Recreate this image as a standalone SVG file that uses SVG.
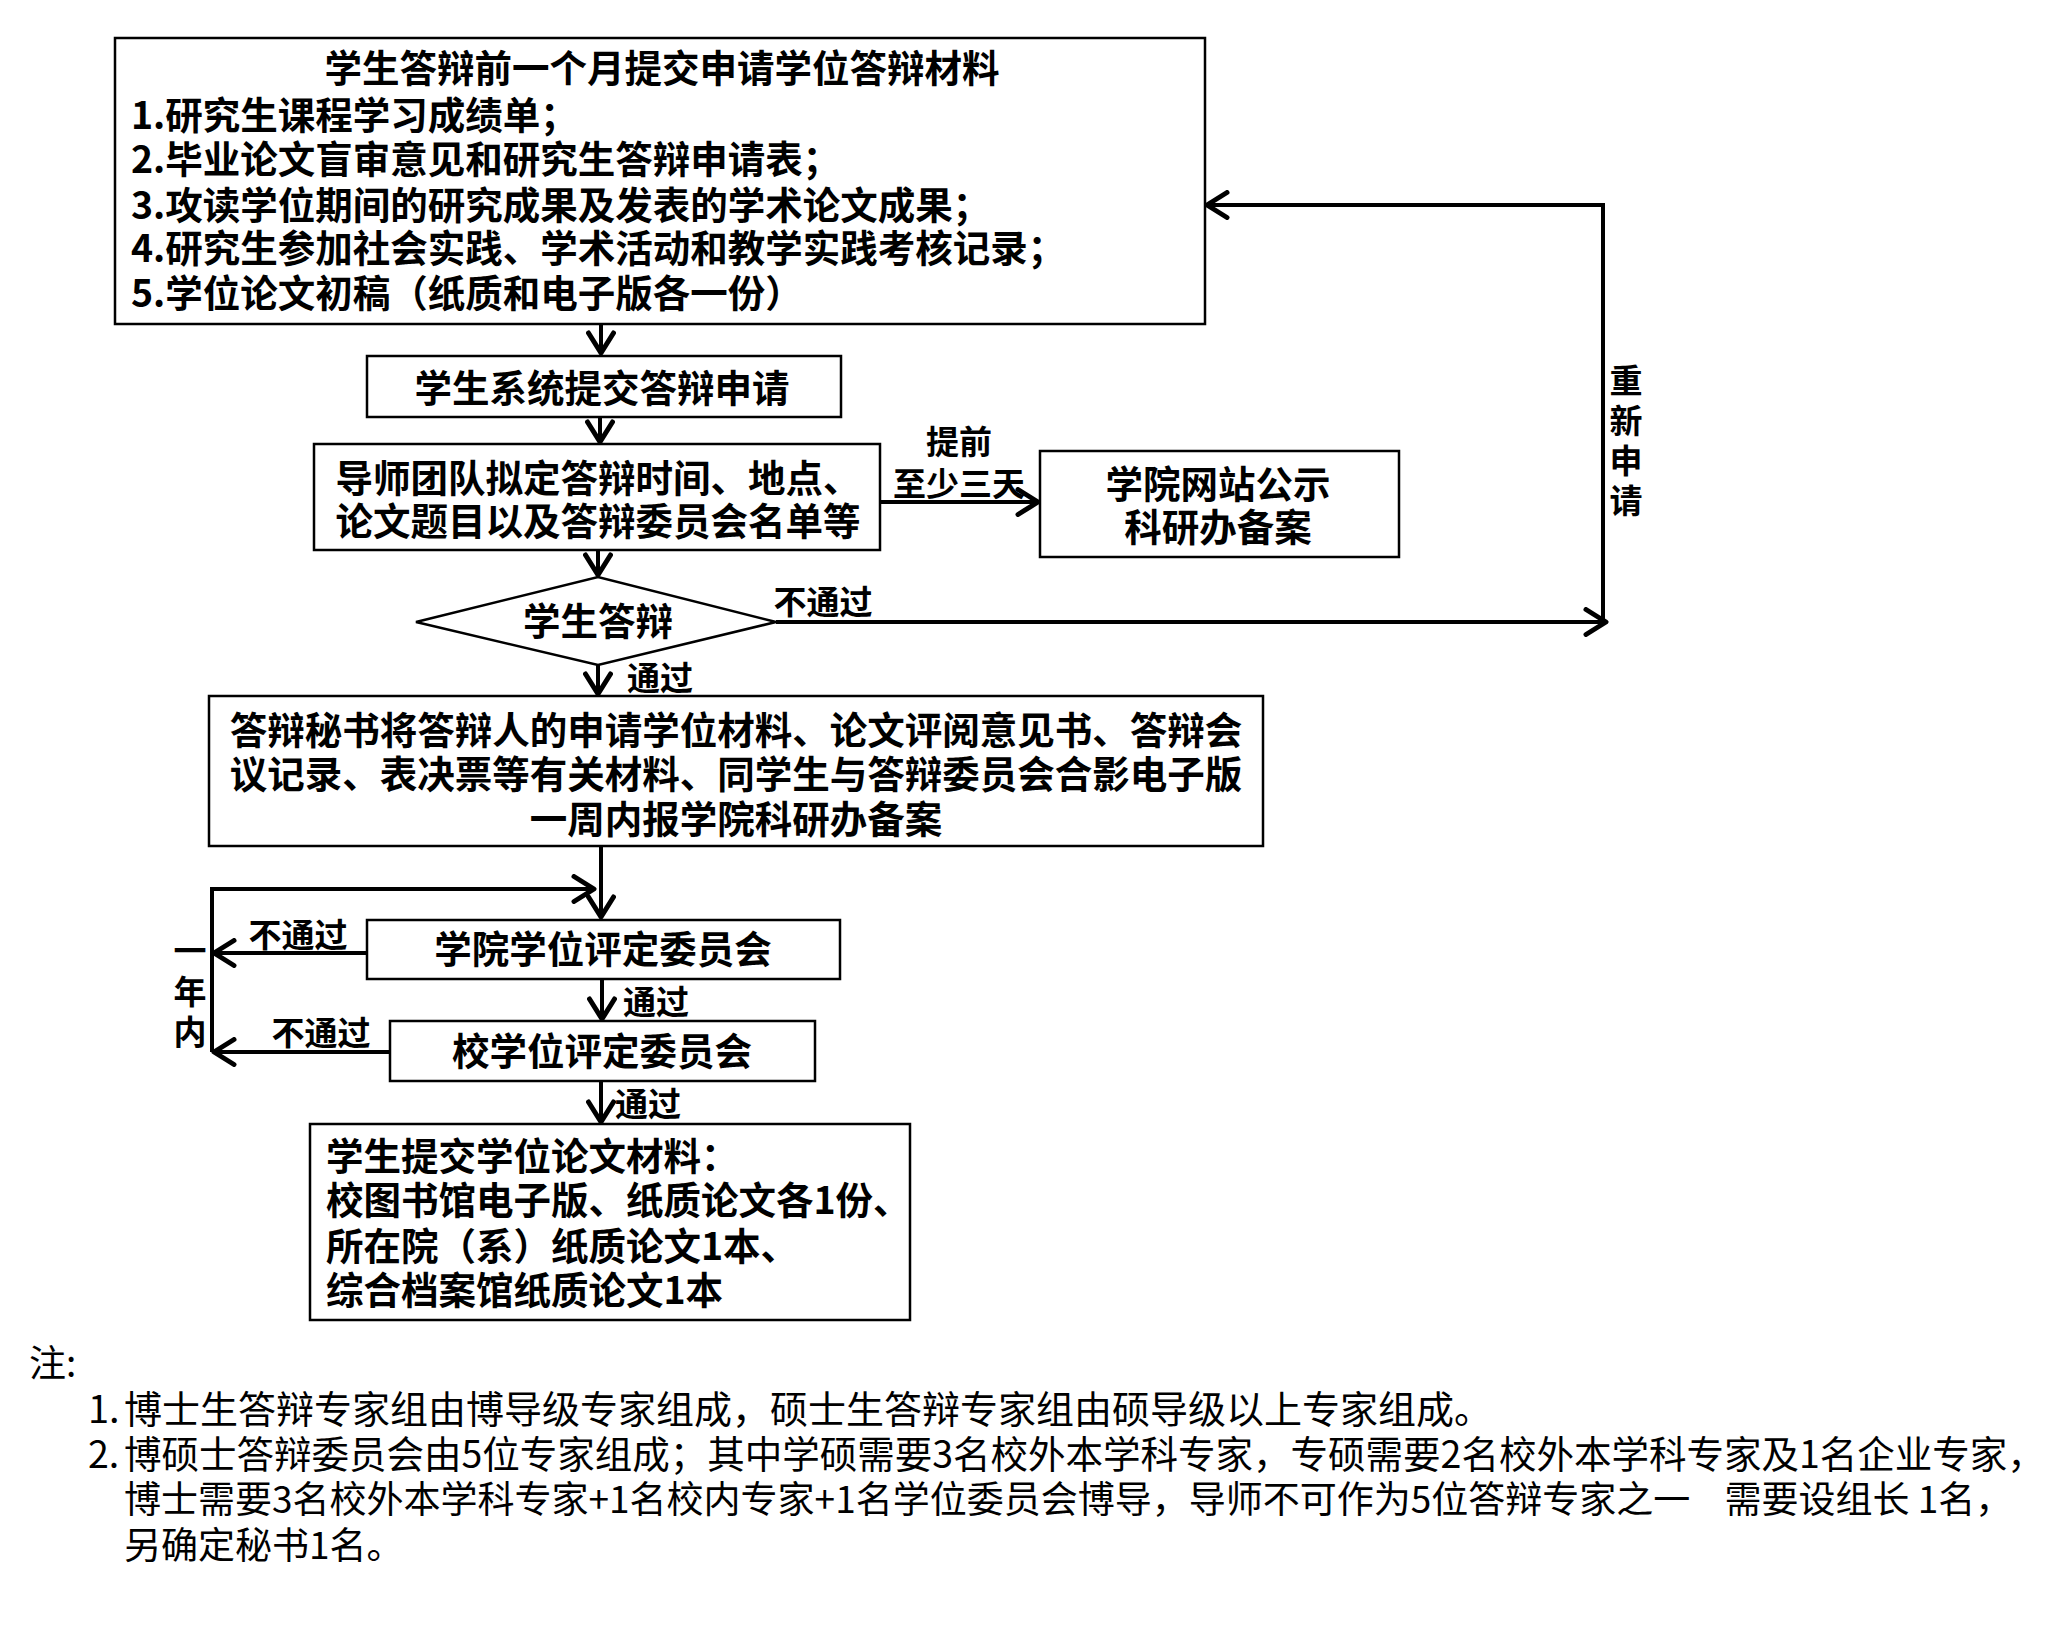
<svg xmlns="http://www.w3.org/2000/svg" width="2048" height="1628" viewBox="0 0 2048 1628">
<style>
.box{fill:#fff;stroke:#000;stroke-width:2.5}
.b{font-family:"Noto Sans CJK SC","Noto Sans",sans-serif;font-weight:700;font-size:37.5px;fill:#000}
.c{text-anchor:middle}
.lab{font-family:"Noto Sans CJK SC","Noto Sans",sans-serif;font-weight:700;font-size:33px;fill:#000}
.note{font-family:"Noto Sans CJK SC","Noto Sans",sans-serif;font-weight:400;font-size:37px;fill:#000}
.conn{fill:none;stroke:#000;stroke-width:4}
</style>
<defs>
<marker id="ah" markerUnits="userSpaceOnUse" markerWidth="30" markerHeight="30" viewBox="-20 -12 24 24" refX="0" refY="0" orient="auto">
<path d="M-16,-10 L0,0 L-16,10" fill="none" stroke="#000" stroke-width="4" stroke-linecap="round" stroke-linejoin="round"/>
</marker>
</defs>
<rect width="2048" height="1628" fill="#fff"/>

<g id="connectors">
<path class="conn" d="M601,324 V353" marker-end="url(#ah)"/>
<path class="conn" d="M600,417 V442" marker-end="url(#ah)"/>
<path class="conn" d="M880,502 H1038" marker-end="url(#ah)"/>
<path class="conn" d="M598,550 V575" marker-end="url(#ah)"/>
<path class="conn" d="M776,622 H1606" marker-end="url(#ah)"/>
<path class="conn" d="M1603,622 V205 H1207" marker-end="url(#ah)"/>
<path class="conn" d="M598,665 V694" marker-end="url(#ah)"/>
<path class="conn" d="M601,846 V917" marker-end="url(#ah)"/>
<path class="conn" d="M212,1052 V889 H594" marker-end="url(#ah)"/>
<path class="conn" d="M367,953 H214" marker-end="url(#ah)"/>
<path class="conn" d="M390,1052 H214" marker-end="url(#ah)"/>
<path class="conn" d="M602,979 V1019" marker-end="url(#ah)"/>
<path class="conn" d="M601,1081 V1122" marker-end="url(#ah)"/>
<text class="lab c" x="959" y="454">提前</text>
<text class="lab c" x="959" y="496">至少三天</text>
<text class="lab c" x="823" y="614">不通过</text>
<text class="lab c" x="660" y="690">通过</text>
<text class="lab c" x="1626" y="393">重</text>
<text class="lab c" x="1626" y="433">新</text>
<text class="lab c" x="1626" y="473">申</text>
<text class="lab c" x="1626" y="513">请</text>
<text class="lab c" x="298" y="947">不通过</text>
<text class="lab c" x="321" y="1045">不通过</text>
<text class="lab c" x="190" y="963">一</text>
<text class="lab c" x="190" y="1004">年</text>
<text class="lab c" x="190" y="1044">内</text>
<text class="lab c" x="656" y="1014">通过</text>
<text class="lab c" x="648" y="1116">通过</text>
</g>

<g id="n1">
<rect class="box" x="115" y="38" width="1090" height="286"/>
<text class="b c" x="662" y="82">学生答辩前一个月提交申请学位答辩材料</text>
<text class="b" x="131" y="129">1.研究生课程学习成绩单；</text>
<text class="b" x="131" y="173">2.毕业论文盲审意见和研究生答辩申请表；</text>
<text class="b" x="131" y="219">3.攻读学位期间的研究成果及发表的学术论文成果；</text>
<text class="b" x="131" y="262">4.研究生参加社会实践、学术活动和教学实践考核记录；</text>
<text class="b" x="131" y="307">5.学位论文初稿（纸质和电子版各一份）</text>
</g>

<g id="n2">
<rect class="box" x="367" y="356" width="474" height="61"/>
<text class="b c" x="602" y="402">学生系统提交答辩申请</text>
</g>

<g id="n3">
<rect class="box" x="314" y="444" width="566" height="106"/>
<text class="b c" x="598" y="492">导师团队拟定答辩时间、地点、</text>
<text class="b c" x="598" y="535">论文题目以及答辩委员会名单等</text>
</g>

<g id="n4">
<rect class="box" x="1040" y="451" width="359" height="106"/>
<text class="b c" x="1218" y="498">学院网站公示</text>
<text class="b c" x="1218" y="541">科研办备案</text>
</g>

<g id="n5">
<polygon class="box" points="416,622 598,577 776,622 598,665"/>
<text class="b c" x="598" y="635">学生答辩</text>
</g>

<g id="n6">
<rect class="box" x="209" y="696" width="1054" height="150"/>
<text class="b c" x="736" y="744">答辩秘书将答辩人的申请学位材料、论文评阅意见书、答辩会</text>
<text class="b c" x="736" y="788">议记录、表决票等有关材料、同学生与答辩委员会合影电子版</text>
<text class="b c" x="736" y="833">一周内报学院科研办备案</text>
</g>

<g id="n7">
<rect class="box" x="367" y="920" width="473" height="59"/>
<text class="b c" x="603" y="963">学院学位评定委员会</text>
</g>

<g id="n8">
<rect class="box" x="390" y="1021" width="425" height="60"/>
<text class="b c" x="602" y="1065">校学位评定委员会</text>
</g>

<g id="n9">
<rect class="box" x="310" y="1124" width="600" height="196"/>
<text class="b" x="326" y="1170">学生提交学位论文材料：</text>
<text class="b" x="326" y="1214">校图书馆电子版、纸质论文各1份、</text>
<text class="b" x="326" y="1260">所在院（系）纸质论文1本、</text>
<text class="b" x="326" y="1304">综合档案馆纸质论文1本</text>
</g>

<g id="notes">
<text class="note" x="29" y="1377">注:</text>
<text class="note" y="1423" style="font-size:38px"><tspan x="88">1.</tspan><tspan x="124">博士生答辩专家组由博导级专家组成，硕士生答辩专家组由硕导级以上专家组成。</tspan></text>
<text class="note" y="1468" style="font-size:37.5px"><tspan x="88">2.</tspan><tspan x="124">博硕士答辩委员会由5位专家组成；其中学硕需要3名校外本学科专家，专硕需要2名校外本学科专家及1名企业专家，</tspan></text>
<text class="note" x="124" y="1513">博士需要3名校外本学科专家+1名校内专家+1名学位委员会博导，导师不可作为5位答辩专家之一<tspan dx="26"> 需要设组长 1名，</tspan></text>
<text class="note" x="124" y="1559">另确定秘书1名。</text>
</g>
</svg>
